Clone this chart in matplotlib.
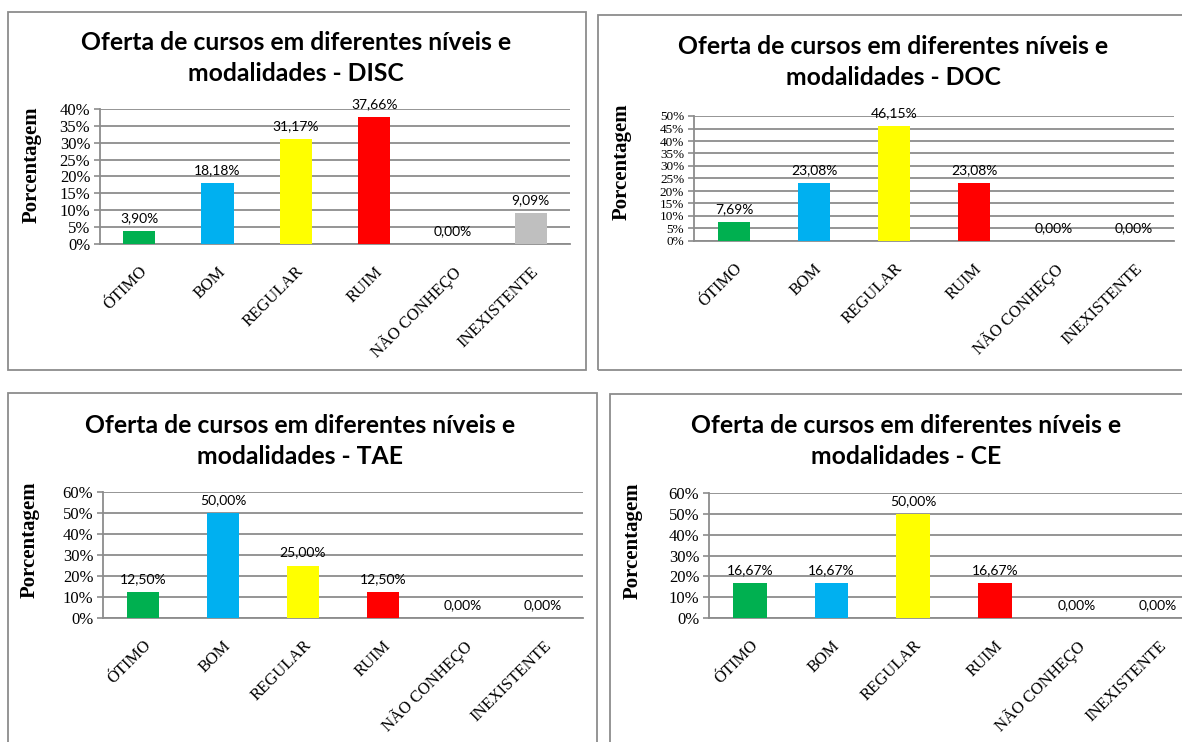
import matplotlib
matplotlib.use("Agg")
import matplotlib.pyplot as plt
from matplotlib.patches import Rectangle

W, H = 1182, 742

categories = ["ÓTIMO", "BOM", "REGULAR", "RUIM", "NÃO CONHEÇO", "INEXISTENTE"]
bar_colors = ["#00B050", "#00B0F0", "#FFFF00", "#FF0000", "#BFBFBF", "#BFBFBF"]

disc = [3.90, 18.18, 31.17, 37.66, 0.00, 9.09]
doc = [7.69, 23.08, 46.15, 23.08, 0.00, 0.00]
tae = [12.50, 50.00, 25.00, 12.50, 0.00, 0.00]
ce = [16.67, 16.67, 50.00, 16.67, 0.00, 0.00]

groups = ["DISC", "DOC", "TAE", "CE"]
y_max = [40, 50, 60, 60]
y_step = [5, 5, 10, 10]
# the DOC panel packs eleven ticks into a short axis
ytick_size = [12, 9.5, 12, 12]

# layout in pixels: frame box, plot area, title centre, y label centre
frames = [(8, 12, 586, 370), (598, 15, 1195, 370),
          (8, 393, 597, 760), (610, 394, 1195, 760)]
plot_areas = [(100, 109, 570, 244), (694, 116, 1174, 241),
              (103, 492, 583, 618), (709, 493, 1199, 618)]
title_pos = [(296, 58), (893, 62), (300, 441), (906, 441)]
ylabel_pos = [(32, 165), (622, 162), (30, 540), (633, 541)]

SERIF = "Liberation Serif"
SANS = "Lato"
GRID = "#8C8C8C"


def px_rect(x0, y0, x1, y1):
    return [x0 / W, 1 - y1 / H, (x1 - x0) / W, (y1 - y0) / H]


def pct(v):
    return f"{v:.2f}%".replace(".", ",")


fig = plt.figure(figsize=(W / 100, H / 100), dpi=100)

for k, values in enumerate([disc, doc, tae, ce]):
    fx0, fy0, fx1, fy1 = frames[k]
    fig.patches.append(Rectangle((fx0 / W, 1 - fy1 / H), (fx1 - fx0) / W, (fy1 - fy0) / H,
                                 transform=fig.transFigure, fill=False,
                                 edgecolor="#8C8C8C", linewidth=1.3))

    ax = fig.add_axes(px_rect(*plot_areas[k]))
    x = range(len(categories))
    ax.bar(x, values, width=0.41, color=bar_colors, zorder=3)

    for xi, v in zip(x, values):
        ax.annotate(pct(v), (xi, v), xytext=(0, 5), textcoords="offset points",
                    ha="center", va="bottom", fontsize=10, family=SANS, zorder=4)

    ax.set_xlim(-0.5, len(categories) - 0.5)
    ax.set_ylim(0, y_max[k])
    ticks = list(range(0, y_max[k] + 1, y_step[k]))
    ax.set_yticks(ticks)
    ax.set_yticklabels([f"{t}%" for t in ticks], family=SERIF, fontsize=ytick_size[k])
    ax.yaxis.grid(True, color=GRID, linewidth=1.3, zorder=0)
    ax.tick_params(axis="y", length=4, width=1.2, color=GRID, pad=3)

    ax.set_xticks(list(x))
    ax.set_xticklabels(categories, family=SERIF, fontsize=12, rotation=45,
                       ha="right", va="top", rotation_mode="anchor")
    ax.tick_params(axis="x", length=0, pad=14)

    for side in ["top", "right"]:
        ax.spines[side].set_visible(False)
    for side in ["left", "bottom"]:
        ax.spines[side].set_color(GRID)
        ax.spines[side].set_linewidth(1.3)

    tx, ty = title_pos[k]
    fig.text(tx / W, 1 - ty / H,
             f"Oferta de cursos em diferentes níveis e\nmodalidades - {groups[k]}",
             ha="center", va="center", fontsize=17.8, fontweight="bold",
             family=SANS, linespacing=1.43)

    lx, ly = ylabel_pos[k]
    fig.text(lx / W, 1 - ly / H, "Porcentagem", rotation=90, ha="center", va="center",
             fontsize=15, fontweight="bold", family=SERIF)

fig.savefig("out.png", dpi=100, facecolor="white")
